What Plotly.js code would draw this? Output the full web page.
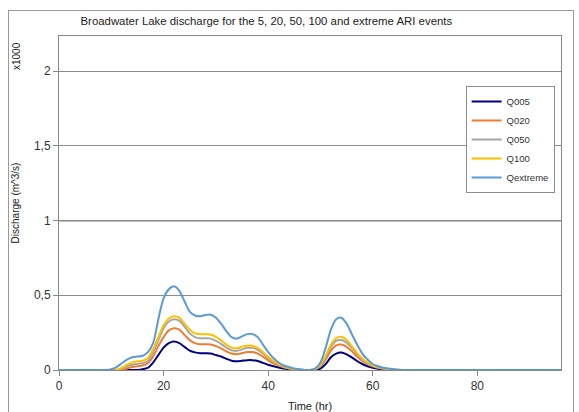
<!DOCTYPE html>
<html>
<head>
<meta charset="utf-8">
<script src="https://cdn.plot.ly/plotly-3.0.1.min.js"></script>
<style>
  html, body { margin: 0; padding: 0; background: #fff; }
  #frame { position: absolute; left: 8px; top: 10px; width: 566px; height: 410px; border: 1px solid #9a9a9a; box-sizing: border-box; }
  #chart { position: absolute; left: 0; top: 0; width: 579px; height: 412px; }
</style>
</head>
<body>
<div id="frame"></div>
<div id="chart"></div>
<script>
// Time (hr)
const time = [0,1,2,3,4,5,6,7,8,9,10,11,12,13,14,15,16,17,18,19,20,21,22,23,24,25,26,27,28,29,30,31,32,33,34,35,36,37,38,39,40,41,42,43,44,45,46,47,48,49,50,51,52,53,54,55,56,57,58,59,60,61,62,63,64,65,66,67,68,69,70,71,72,73,74,75,76,77,78,79,80,81,82,83,84,85,86,87,88,89,90,91,92,93,94,95,96];

// Discharge (x1000 m^3/s)
const q005 = [0,0,0,0,0,0,0,0,0,0,0,0,0,0,0,0,0.005,0.015,0.05,0.1,0.15,0.18,0.19,0.18,0.155,0.13,0.118,0.112,0.112,0.11,0.1,0.09,0.075,0.062,0.058,0.062,0.066,0.066,0.06,0.048,0.035,0.025,0.017,0.01,0.005,0.002,0,0,0,0,0.01,0.04,0.085,0.11,0.117,0.105,0.085,0.06,0.04,0.025,0.015,0.008,0.004,0.002,0,0,0,0,0,0,0,0,0,0,0,0,0,0,0,0,0,0,0,0,0,0,0,0,0,0,0,0,0,0,0,0,0];
const q020 = [0,0,0,0,0,0,0,0,0,0,0,0,0,0.01,0.02,0.025,0.03,0.045,0.09,0.16,0.22,0.265,0.28,0.27,0.235,0.2,0.18,0.172,0.172,0.17,0.16,0.145,0.125,0.11,0.105,0.112,0.12,0.12,0.11,0.09,0.065,0.045,0.03,0.018,0.01,0.005,0.002,0,0,0.005,0.025,0.07,0.13,0.165,0.17,0.155,0.125,0.09,0.06,0.04,0.025,0.015,0.008,0.004,0.002,0,0,0,0,0,0,0,0,0,0,0,0,0,0,0,0,0,0,0,0,0,0,0,0,0,0,0,0,0,0,0,0];
const q050 = [0,0,0,0,0,0,0,0,0,0,0,0,0.01,0.025,0.035,0.042,0.045,0.06,0.12,0.2,0.28,0.325,0.34,0.33,0.29,0.245,0.22,0.212,0.212,0.21,0.195,0.175,0.15,0.132,0.128,0.138,0.148,0.148,0.135,0.11,0.08,0.055,0.035,0.022,0.012,0.006,0.002,0,0,0.006,0.03,0.085,0.155,0.195,0.2,0.183,0.148,0.105,0.07,0.045,0.028,0.017,0.01,0.005,0.002,0,0,0,0,0,0,0,0,0,0,0,0,0,0,0,0,0,0,0,0,0,0,0,0,0,0,0,0,0,0,0,0];
const q100 = [0,0,0,0,0,0,0,0,0,0,0,0,0.015,0.035,0.05,0.058,0.062,0.08,0.14,0.22,0.3,0.345,0.36,0.35,0.31,0.27,0.245,0.24,0.24,0.238,0.222,0.198,0.17,0.15,0.145,0.155,0.162,0.162,0.148,0.12,0.088,0.06,0.04,0.025,0.014,0.007,0.003,0,0,0.007,0.035,0.095,0.17,0.213,0.222,0.2,0.16,0.115,0.077,0.05,0.031,0.019,0.011,0.006,0.003,0.001,0,0,0,0,0,0,0,0,0,0,0,0,0,0,0,0,0,0,0,0,0,0,0,0,0,0,0,0,0,0,0];
const qext = [0,0,0,0,0,0,0,0,0,0,0.005,0.02,0.045,0.07,0.085,0.09,0.095,0.12,0.18,0.34,0.48,0.54,0.56,0.53,0.46,0.39,0.365,0.36,0.368,0.37,0.35,0.31,0.26,0.22,0.21,0.225,0.24,0.24,0.22,0.17,0.12,0.08,0.05,0.03,0.02,0.01,0.005,0,0,0.01,0.05,0.15,0.27,0.34,0.35,0.31,0.24,0.17,0.11,0.07,0.04,0.025,0.015,0.01,0.005,0.002,0,0,0,0,0,0,0,0,0,0,0,0,0,0,0,0,0,0,0,0,0,0,0,0,0,0,0,0,0,0,0];

const seriesNames = ['Q005','Q020','Q050','Q100','Qextreme'];
const seriesData = [q005, q020, q050, q100, qext];
const seriesColors = ['#000080','#ED7D31','#A5A5A5','#FFC000','#5B9BD5'];

const yTicks = [0, 0.5, 1, 1.5, 2];
const xTicks = [0, 20, 40, 60, 80];

const traces = seriesNames.map((n, i) => ({
  x: time, y: seriesData[i], name: n, type: 'scatter', mode: 'lines',
  line: {color: seriesColors[i], width: 2, shape: 'spline', smoothing: 0.8}
}));

const font = {family: 'Liberation Sans, Arial, sans-serif', color: '#333333'};

const layout = {
  width: 579, height: 412,
  margin: {l: 59, r: 18, t: 36, b: 42},
  paper_bgcolor: 'rgba(0,0,0,0)', plot_bgcolor: '#ffffff',
  separators: ',.',
  font: font,
  title: {text: 'Broadwater Lake discharge for the 5, 20, 50, 100 and extreme ARI events',
          font: {family: font.family, size: 11.4, color: '#222'}, x: 0.46, xanchor: 'center', y: 0.949, yanchor: 'middle'},
  xaxis: {range: [0, 96], tickvals: xTicks, ticks: 'outside', ticklen: 5, tickcolor: '#888',
          showline: true, linecolor: '#888', linewidth: 1, mirror: true, showgrid: false, zeroline: false,
          tickfont: {size: 12, color: '#333'},
          title: {text: 'Time (hr)', font: {size: 11, color: '#222'}, standoff: 9}},
  yaxis: {range: [0, 2.235], tickvals: yTicks, ticks: 'outside', ticklen: 5, tickcolor: '#888',
          showline: true, linecolor: '#888', linewidth: 1, mirror: true, showgrid: true, gridcolor: '#8c8c8c', gridwidth: 1,
          zeroline: false, tickfont: {size: 12, color: '#333'},
          title: {text: 'Discharge (m^3/s)', font: {size: 10, color: '#222'}, standoff: 12}},
  legend: {x: 0.81, y: 0.85, xanchor: 'left', yanchor: 'top', bgcolor: '#fff', bordercolor: '#8c8c8c', borderwidth: 1,
           font: {size: 9.5, color: '#333'}, itemwidth: 30, tracegroupgap: 0},
  shapes: [{type: 'line', xref: 'paper', x0: 0, x1: 1, yref: 'y', y0: 1, y1: 1, line: {color: '#000', width: 1.3}, layer: 'below'}],
  annotations: [{text: 'x1000', xref: 'paper', yref: 'paper', x: 0, y: 0.94, xshift: -43, textangle: -90,
                 showarrow: false, font: {size: 10, color: '#222'}, xanchor: 'center', yanchor: 'middle'}]
};

Plotly.newPlot('chart', traces, layout, {displayModeBar: false, staticPlot: true});
</script>
</body>
</html>
